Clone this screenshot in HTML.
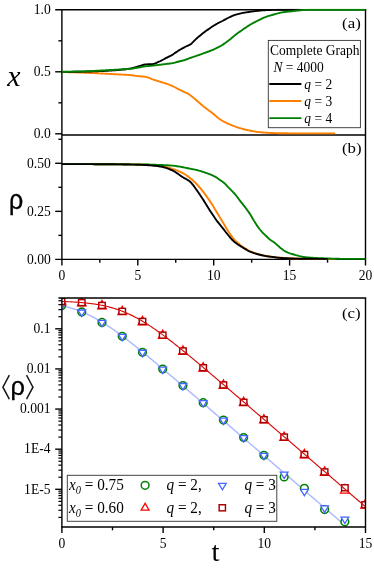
<!DOCTYPE html>
<html lang="en"><head><meta charset="utf-8"><title>q-voter model on a complete graph</title>
<style>html,body{margin:0;padding:0;background:#fff}body{width:374px;height:569px;overflow:hidden}svg{display:block;will-change:transform}</style></head>
<body>
<svg width="374" height="569" viewBox="0 0 374 569">
<rect width="374" height="569" fill="#fff"/>
<defs>
<clipPath id="ca"><rect x="61.9" y="8.8" width="303.6" height="126.2"/></clipPath>
<clipPath id="cb"><rect x="61.9" y="135.0" width="303.6" height="125.39999999999998"/></clipPath>
<clipPath id="cc"><rect x="61.9" y="298.0" width="303.6" height="229.0"/></clipPath>
</defs>
<line x1="55.20" y1="9.80" x2="366.20" y2="9.80" stroke="#000" stroke-width="1.4" />
<line x1="61.90" y1="9.80" x2="61.90" y2="265.60" stroke="#000" stroke-width="1.4" />
<line x1="365.50" y1="9.80" x2="365.50" y2="265.60" stroke="#000" stroke-width="1.4" />
<line x1="61.90" y1="135.00" x2="365.50" y2="135.00" stroke="#000" stroke-width="1.4" />
<line x1="55.20" y1="259.40" x2="365.50" y2="259.40" stroke="#000" stroke-width="1.4" />
<line x1="55.20" y1="71.80" x2="61.90" y2="71.80" stroke="#000" stroke-width="1.4" />
<line x1="55.20" y1="133.80" x2="61.90" y2="133.80" stroke="#000" stroke-width="1.4" />
<line x1="58.40" y1="40.80" x2="61.90" y2="40.80" stroke="#000" stroke-width="1.4" />
<line x1="58.40" y1="102.80" x2="61.90" y2="102.80" stroke="#000" stroke-width="1.4" />
<line x1="55.20" y1="163.30" x2="61.90" y2="163.30" stroke="#000" stroke-width="1.4" />
<line x1="55.20" y1="211.35" x2="61.90" y2="211.35" stroke="#000" stroke-width="1.4" />
<line x1="58.40" y1="139.27" x2="61.90" y2="139.27" stroke="#000" stroke-width="1.4" />
<line x1="58.40" y1="187.32" x2="61.90" y2="187.32" stroke="#000" stroke-width="1.4" />
<line x1="58.40" y1="235.37" x2="61.90" y2="235.37" stroke="#000" stroke-width="1.4" />
<line x1="137.80" y1="259.40" x2="137.80" y2="265.60" stroke="#000" stroke-width="1.4" />
<line x1="213.70" y1="259.40" x2="213.70" y2="265.60" stroke="#000" stroke-width="1.4" />
<line x1="289.60" y1="259.40" x2="289.60" y2="265.60" stroke="#000" stroke-width="1.4" />
<line x1="99.85" y1="259.40" x2="99.85" y2="262.70" stroke="#000" stroke-width="1.4" />
<line x1="175.75" y1="259.40" x2="175.75" y2="262.70" stroke="#000" stroke-width="1.4" />
<line x1="251.65" y1="259.40" x2="251.65" y2="262.70" stroke="#000" stroke-width="1.4" />
<line x1="327.55" y1="259.40" x2="327.55" y2="262.70" stroke="#000" stroke-width="1.4" />
<g clip-path="url(#ca)">
<polyline points="61.90,72.00 62.90,72.02 63.90,72.05 64.90,72.08 65.90,72.10 66.90,72.13 67.90,72.16 68.90,72.19 69.90,72.22 70.90,72.25 71.90,72.28 72.90,72.31 73.90,72.34 74.90,72.37 75.90,72.40 76.90,72.44 77.90,72.47 78.90,72.51 79.90,72.54 80.90,72.58 81.90,72.62 82.90,72.65 83.90,72.69 84.90,72.73 85.90,72.77 86.90,72.81 87.90,72.85 88.90,72.89 89.90,72.94 90.90,72.98 91.90,73.02 92.90,73.07 93.90,73.11 94.90,73.16 95.90,73.21 96.90,73.25 97.90,73.30 98.90,73.35 99.90,73.40 100.90,73.44 101.90,73.50 102.90,73.55 103.90,73.60 104.90,73.66 105.90,73.71 106.90,73.77 107.90,73.83 108.90,73.89 109.90,73.94 110.90,74.00 111.90,74.06 112.90,74.12 113.90,74.18 114.90,74.24 115.90,74.29 116.90,74.35 117.90,74.40 118.90,74.45 119.90,74.50 120.90,74.55 121.90,74.60 122.90,74.65 123.90,74.70 124.90,74.76 125.90,74.82 126.90,74.88 127.90,74.94 128.90,75.01 129.90,75.09 130.90,75.18 131.90,75.29 132.90,75.42 133.90,75.56 134.90,75.70 135.90,75.84 136.90,75.97 137.90,76.09 138.90,76.19 139.90,76.28 140.90,76.36 141.90,76.44 142.90,76.53 143.90,76.63 144.90,76.74 145.90,76.88 146.90,77.10 147.90,77.41 148.90,77.80 149.90,78.23 150.90,78.67 151.90,79.08 152.90,79.44 153.90,79.78 154.90,80.11 155.90,80.44 156.90,80.77 157.90,81.09 158.90,81.40 159.90,81.70 160.90,81.99 161.90,82.28 162.90,82.56 163.90,82.86 164.90,83.17 165.90,83.50 166.90,83.84 167.90,84.20 168.90,84.57 169.90,84.96 170.90,85.36 171.90,85.79 172.90,86.24 173.90,86.73 174.90,87.24 175.90,87.76 176.90,88.29 177.90,88.80 178.90,89.30 179.90,89.81 180.90,90.32 181.90,90.82 182.90,91.32 183.90,91.81 184.90,92.28 185.90,92.72 186.90,93.15 187.90,93.64 188.90,94.24 189.90,94.92 190.90,95.66 191.90,96.46 192.90,97.29 193.90,98.14 194.90,98.99 195.90,99.82 196.90,100.65 197.90,101.51 198.90,102.39 199.90,103.28 200.90,104.17 201.90,105.04 202.90,105.90 203.90,106.72 204.90,107.50 205.90,108.26 206.90,108.99 207.90,109.71 208.90,110.43 209.90,111.15 210.90,111.88 211.90,112.64 212.90,113.44 213.90,114.29 214.90,115.17 215.90,116.05 216.90,116.93 217.90,117.77 218.90,118.55 219.90,119.27 220.90,119.91 221.90,120.51 222.90,121.09 223.90,121.64 224.90,122.16 225.90,122.66 226.90,123.14 227.90,123.61 228.90,124.06 229.90,124.50 230.90,124.93 231.90,125.34 232.90,125.73 233.90,126.11 234.90,126.48 235.90,126.83 236.90,127.17 237.90,127.49 238.90,127.81 239.90,128.11 240.90,128.40 241.90,128.69 242.90,128.96 243.90,129.22 244.90,129.48 245.90,129.72 246.90,129.96 247.90,130.18 248.90,130.38 249.90,130.58 250.90,130.78 251.90,130.98 252.90,131.17 253.90,131.35 254.90,131.52 255.90,131.68 256.90,131.83 257.90,131.96 258.90,132.07 259.90,132.17 260.90,132.26 261.90,132.35 262.90,132.43 263.90,132.51 264.90,132.59 265.90,132.66 266.90,132.73 267.90,132.80 268.90,132.86 269.90,132.91 270.90,132.96 271.90,133.00 272.90,133.04 273.90,133.07 274.90,133.10 275.90,133.12 276.90,133.14 277.90,133.16 278.90,133.18 279.90,133.20 280.90,133.22 281.90,133.23 282.90,133.25 283.90,133.27 284.90,133.28 285.90,133.30 286.90,133.31 287.90,133.32 288.90,133.33 289.90,133.34 290.90,133.35 291.90,133.36 292.90,133.37 293.90,133.38 294.90,133.39 295.90,133.39 296.90,133.39 297.90,133.40 298.90,133.40 299.90,133.40 300.90,133.40 301.90,133.40 302.90,133.40 303.90,133.40 304.90,133.40 305.90,133.40 306.90,133.40 307.90,133.40 308.90,133.40 309.90,133.40 310.90,133.40 311.90,133.40 312.90,133.40 313.90,133.40 314.90,133.40 315.90,133.40 316.90,133.40 317.90,133.40 318.90,133.40 319.90,133.40 320.90,133.40 321.90,133.40 322.90,133.40 323.90,133.40 324.90,133.40 325.90,133.40 326.90,133.40 327.90,133.40 328.90,133.40 329.90,133.40 330.90,133.40 331.90,133.40 332.90,133.40 333.90,133.40 334.90,133.40 335.20,133.40" fill="none" stroke="#ff8000" stroke-width="1.9" stroke-linejoin="round" stroke-linecap="butt" />
<polyline points="61.90,71.90 62.90,71.90 63.90,71.89 64.90,71.89 65.90,71.88 66.90,71.87 67.90,71.86 68.90,71.85 69.90,71.84 70.90,71.83 71.90,71.82 72.90,71.81 73.90,71.79 74.90,71.78 75.90,71.76 76.90,71.75 77.90,71.73 78.90,71.72 79.90,71.70 80.90,71.68 81.90,71.67 82.90,71.65 83.90,71.62 84.90,71.60 85.90,71.58 86.90,71.55 87.90,71.52 88.90,71.49 89.90,71.46 90.90,71.43 91.90,71.40 92.90,71.36 93.90,71.33 94.90,71.29 95.90,71.26 96.90,71.22 97.90,71.18 98.90,71.14 99.90,71.10 100.90,71.06 101.90,71.02 102.90,70.98 103.90,70.93 104.90,70.88 105.90,70.83 106.90,70.78 107.90,70.73 108.90,70.67 109.90,70.61 110.90,70.55 111.90,70.49 112.90,70.42 113.90,70.35 114.90,70.28 115.90,70.21 116.90,70.13 117.90,70.05 118.90,69.96 119.90,69.87 120.90,69.78 121.90,69.67 122.90,69.57 123.90,69.45 124.90,69.33 125.90,69.21 126.90,69.07 127.90,68.93 128.90,68.78 129.90,68.62 130.90,68.43 131.90,68.21 132.90,67.95 133.90,67.68 134.90,67.39 135.90,67.09 136.90,66.80 137.90,66.53 138.90,66.25 139.90,65.94 140.90,65.61 141.90,65.30 142.90,65.00 143.90,64.74 144.90,64.54 145.90,64.41 146.90,64.34 147.90,64.30 148.90,64.26 149.90,64.23 150.90,64.20 151.90,64.14 152.90,64.05 153.90,63.84 154.90,63.50 155.90,63.09 156.90,62.63 157.90,62.15 158.90,61.70 159.90,61.25 160.90,60.77 161.90,60.27 162.90,59.75 163.90,59.22 164.90,58.70 165.90,58.20 166.90,57.70 167.90,57.21 168.90,56.71 169.90,56.19 170.90,55.65 171.90,55.08 172.90,54.45 173.90,53.78 174.90,53.08 175.90,52.37 176.90,51.68 177.90,51.02 178.90,50.41 179.90,49.81 180.90,49.23 181.90,48.66 182.90,48.10 183.90,47.55 184.90,47.01 185.90,46.49 186.90,46.03 187.90,45.58 188.90,45.11 189.90,44.59 190.90,43.96 191.90,43.15 192.90,42.17 193.90,41.12 194.90,40.07 195.90,39.09 196.90,38.21 197.90,37.35 198.90,36.52 199.90,35.70 200.90,34.90 201.90,34.11 202.90,33.33 203.90,32.57 204.90,31.82 205.90,31.08 206.90,30.35 207.90,29.63 208.90,28.90 209.90,28.19 210.90,27.50 211.90,26.83 212.90,26.18 213.90,25.55 214.90,24.94 215.90,24.35 216.90,23.78 217.90,23.23 218.90,22.72 219.90,22.23 220.90,21.75 221.90,21.26 222.90,20.74 223.90,20.19 224.90,19.63 225.90,19.07 226.90,18.52 227.90,17.99 228.90,17.51 229.90,17.04 230.90,16.58 231.90,16.13 232.90,15.71 233.90,15.32 234.90,14.96 235.90,14.64 236.90,14.35 237.90,14.07 238.90,13.82 239.90,13.58 240.90,13.35 241.90,13.14 242.90,12.94 243.90,12.76 244.90,12.59 245.90,12.43 246.90,12.27 247.90,12.12 248.90,11.97 249.90,11.82 250.90,11.68 251.90,11.54 252.90,11.41 253.90,11.28 254.90,11.16 255.90,11.04 256.90,10.92 257.90,10.81 258.90,10.70 259.90,10.60 260.90,10.50 261.90,10.42 262.90,10.34 263.90,10.27 264.90,10.20 265.90,10.13 266.90,10.08 267.90,10.03 268.90,10.00 269.90,9.97 270.90,9.94 271.90,9.92 272.90,9.89 273.90,9.87 274.90,9.85 275.90,9.83 276.90,9.82 277.90,9.81 278.90,9.80 279.90,9.80 280.90,9.80 281.90,9.80 282.90,9.80 283.90,9.80 284.90,9.80 285.90,9.80 286.90,9.80 287.90,9.80 288.90,9.80 289.90,9.80 290.90,9.80 291.90,9.80 292.90,9.80 293.90,9.80 294.90,9.80 295.90,9.80 296.90,9.80 297.90,9.80 298.90,9.80 299.90,9.80 300.00,9.80" fill="none" stroke="#000000" stroke-width="1.9" stroke-linejoin="round" stroke-linecap="butt" />
<polyline points="61.90,71.70 62.90,71.70 63.90,71.70 64.90,71.69 65.90,71.68 66.90,71.68 67.90,71.67 68.90,71.66 69.90,71.64 70.90,71.63 71.90,71.62 72.90,71.60 73.90,71.58 74.90,71.57 75.90,71.55 76.90,71.53 77.90,71.51 78.90,71.50 79.90,71.48 80.90,71.45 81.90,71.42 82.90,71.39 83.90,71.36 84.90,71.32 85.90,71.28 86.90,71.24 87.90,71.20 88.90,71.15 89.90,71.11 90.90,71.06 91.90,71.01 92.90,70.96 93.90,70.91 94.90,70.86 95.90,70.81 96.90,70.75 97.90,70.70 98.90,70.65 99.90,70.60 100.90,70.56 101.90,70.51 102.90,70.45 103.90,70.40 104.90,70.35 105.90,70.29 106.90,70.24 107.90,70.18 108.90,70.12 109.90,70.06 110.90,70.00 111.90,69.95 112.90,69.89 113.90,69.83 114.90,69.77 115.90,69.71 116.90,69.65 117.90,69.59 118.90,69.54 119.90,69.48 120.90,69.43 121.90,69.37 122.90,69.31 123.90,69.25 124.90,69.19 125.90,69.13 126.90,69.06 127.90,68.98 128.90,68.90 129.90,68.81 130.90,68.71 131.90,68.58 132.90,68.44 133.90,68.28 134.90,68.12 135.90,67.95 136.90,67.78 137.90,67.62 138.90,67.45 139.90,67.26 140.90,67.06 141.90,66.86 142.90,66.67 143.90,66.49 144.90,66.34 145.90,66.21 146.90,66.11 147.90,66.03 148.90,65.96 149.90,65.90 150.90,65.83 151.90,65.75 152.90,65.66 153.90,65.55 154.90,65.43 155.90,65.30 156.90,65.16 157.90,65.03 158.90,64.90 159.90,64.78 160.90,64.65 161.90,64.53 162.90,64.40 163.90,64.27 164.90,64.15 165.90,64.03 166.90,63.91 167.90,63.80 168.90,63.69 169.90,63.56 170.90,63.43 171.90,63.27 172.90,63.07 173.90,62.83 174.90,62.57 175.90,62.29 176.90,62.02 177.90,61.75 178.90,61.50 179.90,61.27 180.90,61.03 181.90,60.80 182.90,60.55 183.90,60.27 184.90,59.98 185.90,59.63 186.90,59.26 187.90,58.87 188.90,58.48 189.90,58.12 190.90,57.77 191.90,57.41 192.90,57.07 193.90,56.72 194.90,56.38 195.90,56.03 196.90,55.69 197.90,55.34 198.90,54.99 199.90,54.64 200.90,54.28 201.90,53.92 202.90,53.56 203.90,53.20 204.90,52.85 205.90,52.49 206.90,52.12 207.90,51.75 208.90,51.38 209.90,50.99 210.90,50.59 211.90,50.18 212.90,49.76 213.90,49.33 214.90,48.88 215.90,48.43 216.90,47.95 217.90,47.46 218.90,46.95 219.90,46.41 220.90,45.84 221.90,45.23 222.90,44.58 223.90,43.91 224.90,43.22 225.90,42.52 226.90,41.79 227.90,41.04 228.90,40.27 229.90,39.48 230.90,38.67 231.90,37.82 232.90,36.97 233.90,36.12 234.90,35.29 235.90,34.52 236.90,33.77 237.90,33.04 238.90,32.33 239.90,31.63 240.90,30.94 241.90,30.24 242.90,29.54 243.90,28.83 244.90,28.13 245.90,27.44 246.90,26.76 247.90,26.11 248.90,25.48 249.90,24.87 250.90,24.28 251.90,23.71 252.90,23.15 253.90,22.60 254.90,22.07 255.90,21.54 256.90,21.02 257.90,20.53 258.90,20.04 259.90,19.56 260.90,19.07 261.90,18.60 262.90,18.14 263.90,17.70 264.90,17.30 265.90,16.92 266.90,16.56 267.90,16.22 268.90,15.90 269.90,15.58 270.90,15.29 271.90,15.01 272.90,14.73 273.90,14.46 274.90,14.18 275.90,13.89 276.90,13.61 277.90,13.35 278.90,13.10 279.90,12.86 280.90,12.63 281.90,12.41 282.90,12.22 283.90,12.07 284.90,11.95 285.90,11.85 286.90,11.76 287.90,11.67 288.90,11.57 289.90,11.47 290.90,11.34 291.90,11.21 292.90,11.08 293.90,10.96 294.90,10.84 295.90,10.73 296.90,10.63 297.90,10.52 298.90,10.43 299.90,10.33 300.90,10.24 301.90,10.15 302.90,10.07 303.90,10.01 304.90,9.95 305.90,9.89 306.90,9.85 307.90,9.81 308.90,9.80 309.90,9.80 310.90,9.80 311.90,9.80 312.90,9.80 313.90,9.80 314.90,9.80 315.90,9.80 316.90,9.80 317.90,9.80 318.90,9.80 319.90,9.80 320.90,9.80 321.90,9.80 322.90,9.80 323.90,9.80 324.90,9.80 325.90,9.80 326.90,9.80 327.90,9.80 328.90,9.80 329.90,9.80 330.90,9.80 331.90,9.80 332.90,9.80 333.90,9.80 334.90,9.80 335.90,9.80 336.90,9.80 337.90,9.80 338.90,9.80 339.90,9.80 340.90,9.80 341.90,9.80 342.90,9.80 343.90,9.80 344.90,9.80 345.90,9.80 346.90,9.80 347.90,9.80 348.90,9.80 349.90,9.80 350.90,9.80 351.90,9.80 352.90,9.80 353.90,9.80 354.90,9.80 355.90,9.80 356.90,9.80 357.90,9.80 358.90,9.80 359.90,9.80 360.90,9.80 361.90,9.80 362.90,9.80 363.90,9.80 364.90,9.80 365.50,9.80" fill="none" stroke="#008000" stroke-width="1.9" stroke-linejoin="round" stroke-linecap="butt" />
</g>
<g clip-path="url(#cb)">
<polyline points="61.90,164.10 62.90,164.10 63.90,164.10 64.90,164.10 65.90,164.10 66.90,164.10 67.90,164.10 68.90,164.11 69.90,164.11 70.90,164.11 71.90,164.11 72.90,164.11 73.90,164.11 74.90,164.12 75.90,164.12 76.90,164.12 77.90,164.12 78.90,164.13 79.90,164.13 80.90,164.13 81.90,164.14 82.90,164.14 83.90,164.14 84.90,164.14 85.90,164.15 86.90,164.15 87.90,164.15 88.90,164.16 89.90,164.16 90.90,164.17 91.90,164.17 92.90,164.17 93.90,164.18 94.90,164.18 95.90,164.18 96.90,164.19 97.90,164.19 98.90,164.20 99.90,164.20 100.90,164.20 101.90,164.21 102.90,164.21 103.90,164.22 104.90,164.22 105.90,164.22 106.90,164.23 107.90,164.23 108.90,164.24 109.90,164.24 110.90,164.25 111.90,164.25 112.90,164.25 113.90,164.26 114.90,164.27 115.90,164.27 116.90,164.28 117.90,164.28 118.90,164.29 119.90,164.29 120.90,164.30 121.90,164.31 122.90,164.32 123.90,164.32 124.90,164.33 125.90,164.34 126.90,164.35 127.90,164.36 128.90,164.37 129.90,164.38 130.90,164.39 131.90,164.40 132.90,164.41 133.90,164.42 134.90,164.43 135.90,164.44 136.90,164.46 137.90,164.47 138.90,164.48 139.90,164.50 140.90,164.52 141.90,164.54 142.90,164.57 143.90,164.60 144.90,164.64 145.90,164.69 146.90,164.74 147.90,164.79 148.90,164.85 149.90,164.92 150.90,164.99 151.90,165.06 152.90,165.14 153.90,165.23 154.90,165.32 155.90,165.41 156.90,165.51 157.90,165.61 158.90,165.72 159.90,165.83 160.90,165.94 161.90,166.06 162.90,166.22 163.90,166.42 164.90,166.65 165.90,166.90 166.90,167.18 167.90,167.47 168.90,167.78 169.90,168.10 170.90,168.42 171.90,168.74 172.90,169.06 173.90,169.39 174.90,169.74 175.90,170.10 176.90,170.47 177.90,170.87 178.90,171.28 179.90,171.71 180.90,172.17 181.90,172.65 182.90,173.15 183.90,173.70 184.90,174.31 185.90,174.97 186.90,175.66 187.90,176.39 188.90,177.15 189.90,177.92 190.90,178.72 191.90,179.56 192.90,180.43 193.90,181.35 194.90,182.30 195.90,183.28 196.90,184.31 197.90,185.39 198.90,186.52 199.90,187.71 200.90,188.93 201.90,190.19 202.90,191.46 203.90,192.75 204.90,194.06 205.90,195.40 206.90,196.78 207.90,198.19 208.90,199.63 209.90,201.10 210.90,202.62 211.90,204.19 212.90,205.81 213.90,207.46 214.90,209.12 215.90,210.78 216.90,212.43 217.90,214.07 218.90,215.72 219.90,217.38 220.90,219.04 221.90,220.70 222.90,222.37 223.90,224.06 224.90,225.77 225.90,227.47 226.90,229.11 227.90,230.66 228.90,232.18 229.90,233.68 230.90,235.14 231.90,236.52 232.90,237.81 233.90,238.99 234.90,240.06 235.90,241.08 236.90,242.04 237.90,242.95 238.90,243.81 239.90,244.64 240.90,245.41 241.90,246.16 242.90,246.86 243.90,247.55 244.90,248.20 245.90,248.82 246.90,249.42 247.90,249.98 248.90,250.51 249.90,251.01 250.90,251.47 251.90,251.92 252.90,252.35 253.90,252.76 254.90,253.14 255.90,253.50 256.90,253.84 257.90,254.14 258.90,254.42 259.90,254.69 260.90,254.94 261.90,255.17 262.90,255.39 263.90,255.60 264.90,255.79 265.90,255.97 266.90,256.13 267.90,256.29 268.90,256.44 269.90,256.59 270.90,256.72 271.90,256.85 272.90,256.96 273.90,257.07 274.90,257.17 275.90,257.27 276.90,257.36 277.90,257.46 278.90,257.55 279.90,257.64 280.90,257.72 281.90,257.80 282.90,257.88 283.90,257.95 284.90,258.02 285.90,258.09 286.90,258.15 287.90,258.20 288.90,258.25 289.90,258.30 290.90,258.34 291.90,258.38 292.90,258.41 293.90,258.45 294.90,258.48 295.90,258.51 296.90,258.54 297.90,258.56 298.90,258.58 299.90,258.60 300.90,258.61 301.90,258.63 302.90,258.64 303.90,258.66 304.90,258.67 305.90,258.68 306.90,258.70 307.90,258.71 308.90,258.72 309.90,258.73 310.90,258.75 311.90,258.76 312.90,258.77 313.90,258.78 314.90,258.79 315.90,258.80 316.90,258.81 317.90,258.82 318.90,258.83 319.90,258.83 320.90,258.84 321.90,258.85 322.90,258.86 323.90,258.86 324.90,258.87 325.90,258.88 326.90,258.88 327.90,258.88 328.90,258.89 329.90,258.89 330.90,258.89 331.90,258.90 332.90,258.90 333.90,258.90 334.90,258.90 335.20,258.90" fill="none" stroke="#ff8000" stroke-width="1.9" stroke-linejoin="round" stroke-linecap="butt" />
<polyline points="61.90,164.10 62.90,164.10 63.90,164.10 64.90,164.10 65.90,164.11 66.90,164.11 67.90,164.11 68.90,164.11 69.90,164.11 70.90,164.12 71.90,164.12 72.90,164.12 73.90,164.12 74.90,164.13 75.90,164.13 76.90,164.13 77.90,164.13 78.90,164.14 79.90,164.14 80.90,164.14 81.90,164.14 82.90,164.15 83.90,164.15 84.90,164.15 85.90,164.15 86.90,164.16 87.90,164.16 88.90,164.16 89.90,164.17 90.90,164.17 91.90,164.17 92.90,164.18 93.90,164.18 94.90,164.18 95.90,164.19 96.90,164.19 97.90,164.19 98.90,164.20 99.90,164.20 100.90,164.20 101.90,164.21 102.90,164.21 103.90,164.21 104.90,164.22 105.90,164.22 106.90,164.22 107.90,164.23 108.90,164.23 109.90,164.23 110.90,164.24 111.90,164.24 112.90,164.24 113.90,164.25 114.90,164.25 115.90,164.25 116.90,164.26 117.90,164.26 118.90,164.27 119.90,164.27 120.90,164.28 121.90,164.28 122.90,164.28 123.90,164.29 124.90,164.29 125.90,164.30 126.90,164.31 127.90,164.31 128.90,164.32 129.90,164.32 130.90,164.33 131.90,164.34 132.90,164.34 133.90,164.35 134.90,164.36 135.90,164.37 136.90,164.37 137.90,164.38 138.90,164.39 139.90,164.40 140.90,164.41 141.90,164.42 142.90,164.44 143.90,164.45 144.90,164.47 145.90,164.49 146.90,164.52 147.90,164.54 148.90,164.57 149.90,164.60 150.90,164.63 151.90,164.66 152.90,164.69 153.90,164.72 154.90,164.76 155.90,164.79 156.90,164.83 157.90,164.87 158.90,164.90 159.90,164.94 160.90,164.98 161.90,165.02 162.90,165.06 163.90,165.10 164.90,165.15 165.90,165.20 166.90,165.25 167.90,165.31 168.90,165.37 169.90,165.44 170.90,165.51 171.90,165.58 172.90,165.67 173.90,165.78 174.90,165.90 175.90,166.04 176.90,166.19 177.90,166.35 178.90,166.51 179.90,166.69 180.90,166.86 181.90,167.04 182.90,167.22 183.90,167.40 184.90,167.61 185.90,167.82 186.90,168.04 187.90,168.26 188.90,168.47 189.90,168.68 190.90,168.87 191.90,169.06 192.90,169.24 193.90,169.42 194.90,169.61 195.90,169.82 196.90,170.05 197.90,170.30 198.90,170.58 199.90,170.88 200.90,171.19 201.90,171.51 202.90,171.84 203.90,172.16 204.90,172.49 205.90,172.83 206.90,173.18 207.90,173.54 208.90,173.92 209.90,174.32 210.90,174.73 211.90,175.16 212.90,175.61 213.90,176.09 214.90,176.60 215.90,177.14 216.90,177.72 217.90,178.41 218.90,179.17 219.90,179.93 220.90,180.62 221.90,181.27 222.90,181.95 223.90,182.72 224.90,183.64 225.90,184.70 226.90,185.81 227.90,186.90 228.90,187.91 229.90,188.89 230.90,189.88 231.90,190.90 232.90,191.95 233.90,193.01 234.90,194.12 235.90,195.28 236.90,196.53 237.90,197.87 238.90,199.23 239.90,200.57 240.90,201.85 241.90,203.11 242.90,204.36 243.90,205.64 244.90,206.95 245.90,208.29 246.90,209.65 247.90,211.02 248.90,212.41 249.90,213.85 250.90,215.45 251.90,217.18 252.90,218.94 253.90,220.64 254.90,222.26 255.90,223.86 256.90,225.41 257.90,226.86 258.90,228.22 259.90,229.52 260.90,230.74 261.90,231.89 262.90,232.95 263.90,233.93 264.90,234.87 265.90,235.81 266.90,236.77 267.90,237.74 268.90,238.68 269.90,239.54 270.90,240.28 271.90,240.94 272.90,241.57 273.90,242.25 274.90,243.03 275.90,243.87 276.90,244.74 277.90,245.62 278.90,246.54 279.90,247.45 280.90,248.28 281.90,249.05 282.90,249.79 283.90,250.49 284.90,251.11 285.90,251.65 286.90,252.13 287.90,252.56 288.90,252.96 289.90,253.33 290.90,253.67 291.90,253.98 292.90,254.27 293.90,254.54 294.90,254.82 295.90,255.10 296.90,255.38 297.90,255.65 298.90,255.92 299.90,256.16 300.90,256.37 301.90,256.58 302.90,256.78 303.90,256.95 304.90,257.10 305.90,257.23 306.90,257.34 307.90,257.44 308.90,257.53 309.90,257.62 310.90,257.69 311.90,257.76 312.90,257.82 313.90,257.88 314.90,257.94 315.90,257.99 316.90,258.05 317.90,258.10 318.90,258.14 319.90,258.19 320.90,258.24 321.90,258.28 322.90,258.32 323.90,258.36 324.90,258.40 325.90,258.44 326.90,258.47 327.90,258.50 328.90,258.53 329.90,258.56 330.90,258.59 331.90,258.62 332.90,258.65 333.90,258.68 334.90,258.71 335.90,258.74 336.90,258.77 337.90,258.79 338.90,258.81 339.90,258.84 340.90,258.85 341.90,258.87 342.90,258.88 343.90,258.89 344.90,258.90 345.90,258.90 346.90,258.90 347.90,258.90 348.90,258.90 349.90,258.90 350.90,258.90 351.90,258.90 352.90,258.90 353.90,258.90 354.90,258.90 355.90,258.90 356.90,258.90 357.90,258.90 358.90,258.90 359.90,258.90 360.90,258.90 361.90,258.90 362.90,258.90 363.90,258.90 364.90,258.90 365.50,258.90" fill="none" stroke="#008000" stroke-width="1.9" stroke-linejoin="round" stroke-linecap="butt" />
<polyline points="61.90,164.10 62.90,164.10 63.90,164.10 64.90,164.10 65.90,164.10 66.90,164.10 67.90,164.10 68.90,164.10 69.90,164.11 70.90,164.11 71.90,164.11 72.90,164.11 73.90,164.11 74.90,164.11 75.90,164.12 76.90,164.12 77.90,164.12 78.90,164.12 79.90,164.13 80.90,164.13 81.90,164.13 82.90,164.13 83.90,164.14 84.90,164.14 85.90,164.14 86.90,164.15 87.90,164.15 88.90,164.15 89.90,164.16 90.90,164.16 91.90,164.17 92.90,164.17 93.90,164.17 94.90,164.18 95.90,164.18 96.90,164.19 97.90,164.19 98.90,164.20 99.90,164.20 100.90,164.20 101.90,164.21 102.90,164.21 103.90,164.22 104.90,164.23 105.90,164.23 106.90,164.24 107.90,164.25 108.90,164.26 109.90,164.27 110.90,164.28 111.90,164.29 112.90,164.30 113.90,164.31 114.90,164.32 115.90,164.33 116.90,164.35 117.90,164.36 118.90,164.37 119.90,164.39 120.90,164.40 121.90,164.42 122.90,164.43 123.90,164.45 124.90,164.47 125.90,164.49 126.90,164.50 127.90,164.52 128.90,164.54 129.90,164.56 130.90,164.58 131.90,164.60 132.90,164.63 133.90,164.65 134.90,164.67 135.90,164.70 136.90,164.72 137.90,164.75 138.90,164.77 139.90,164.80 140.90,164.83 141.90,164.86 142.90,164.91 143.90,164.95 144.90,165.01 145.90,165.07 146.90,165.13 147.90,165.20 148.90,165.27 149.90,165.34 150.90,165.42 151.90,165.50 152.90,165.58 153.90,165.68 154.90,165.78 155.90,165.90 156.90,166.02 157.90,166.15 158.90,166.29 159.90,166.45 160.90,166.61 161.90,166.79 162.90,167.01 163.90,167.26 164.90,167.55 165.90,167.86 166.90,168.20 167.90,168.56 168.90,168.95 169.90,169.36 170.90,169.78 171.90,170.21 172.90,170.68 173.90,171.21 174.90,171.81 175.90,172.45 176.90,173.12 177.90,173.82 178.90,174.53 179.90,175.24 180.90,175.94 181.90,176.62 182.90,177.26 183.90,177.85 184.90,178.41 185.90,178.94 186.90,179.50 187.90,180.09 188.90,180.76 189.90,181.52 190.90,182.43 191.90,183.54 192.90,184.80 193.90,186.15 194.90,187.56 195.90,188.98 196.90,190.38 197.90,191.78 198.90,193.24 199.90,194.73 200.90,196.25 201.90,197.78 202.90,199.33 203.90,200.88 204.90,202.46 205.90,204.07 206.90,205.70 207.90,207.32 208.90,208.92 209.90,210.49 210.90,212.03 211.90,213.57 212.90,215.09 213.90,216.60 214.90,218.07 215.90,219.49 216.90,220.87 217.90,222.18 218.90,223.45 219.90,224.68 220.90,225.90 221.90,227.12 222.90,228.36 223.90,229.65 224.90,230.98 225.90,232.28 226.90,233.52 227.90,234.76 228.90,235.99 229.90,237.20 230.90,238.36 231.90,239.47 232.90,240.49 233.90,241.41 234.90,242.25 235.90,243.03 236.90,243.75 237.90,244.44 238.90,245.10 239.90,245.74 240.90,246.36 241.90,246.98 242.90,247.60 243.90,248.22 244.90,248.83 245.90,249.43 246.90,250.01 247.90,250.55 248.90,251.06 249.90,251.51 250.90,251.93 251.90,252.32 252.90,252.69 253.90,253.03 254.90,253.36 255.90,253.67 256.90,253.97 257.90,254.25 258.90,254.51 259.90,254.77 260.90,255.02 261.90,255.25 262.90,255.48 263.90,255.69 264.90,255.89 265.90,256.07 266.90,256.23 267.90,256.38 268.90,256.52 269.90,256.65 270.90,256.78 271.90,256.91 272.90,257.03 273.90,257.16 274.90,257.30 275.90,257.44 276.90,257.58 277.90,257.69 278.90,257.78 279.90,257.85 280.90,257.93 281.90,257.99 282.90,258.06 283.90,258.12 284.90,258.17 285.90,258.22 286.90,258.27 287.90,258.31 288.90,258.36 289.90,258.40 290.90,258.44 291.90,258.47 292.90,258.51 293.90,258.55 294.90,258.58 295.90,258.61 296.90,258.64 297.90,258.66 298.90,258.68 299.90,258.70 300.90,258.71 301.90,258.72 302.90,258.74 303.90,258.75 304.90,258.76 305.90,258.77 306.90,258.78 307.90,258.79 308.90,258.80 309.90,258.81 310.90,258.82 311.90,258.83 312.90,258.84 313.90,258.84 314.90,258.85 315.90,258.86 316.90,258.87 317.90,258.87 318.90,258.88 319.90,258.88 320.90,258.89 321.90,258.89 322.90,258.89 323.90,258.90 324.90,258.90 325.90,258.90 326.90,258.90 327.80,258.90" fill="none" stroke="#000000" stroke-width="1.9" stroke-linejoin="round" stroke-linecap="butt" />
</g>
<g transform="translate(50.80,14.10) scale(0.905,1)"><text text-anchor="end" fill="#000" style='font-family:"Liberation Serif", serif;font-size:15px;' >1.0</text></g>
<g transform="translate(50.80,76.10) scale(0.905,1)"><text text-anchor="end" fill="#000" style='font-family:"Liberation Serif", serif;font-size:15px;' >0.5</text></g>
<g transform="translate(50.80,138.10) scale(0.905,1)"><text text-anchor="end" fill="#000" style='font-family:"Liberation Serif", serif;font-size:15px;' >0.0</text></g>
<g transform="translate(50.80,167.60) scale(0.905,1)"><text text-anchor="end" fill="#000" style='font-family:"Liberation Serif", serif;font-size:15px;' >0.50</text></g>
<g transform="translate(50.80,215.65) scale(0.905,1)"><text text-anchor="end" fill="#000" style='font-family:"Liberation Serif", serif;font-size:15px;' >0.25</text></g>
<g transform="translate(50.80,263.70) scale(0.905,1)"><text text-anchor="end" fill="#000" style='font-family:"Liberation Serif", serif;font-size:15px;' >0.00</text></g>
<g transform="translate(61.90,280.00) scale(0.905,1)"><text text-anchor="middle" fill="#000" style='font-family:"Liberation Serif", serif;font-size:15px;' >0</text></g>
<g transform="translate(137.80,280.00) scale(0.905,1)"><text text-anchor="middle" fill="#000" style='font-family:"Liberation Serif", serif;font-size:15px;' >5</text></g>
<g transform="translate(213.70,280.00) scale(0.905,1)"><text text-anchor="middle" fill="#000" style='font-family:"Liberation Serif", serif;font-size:15px;' >10</text></g>
<g transform="translate(289.60,280.00) scale(0.905,1)"><text text-anchor="middle" fill="#000" style='font-family:"Liberation Serif", serif;font-size:15px;' >15</text></g>
<g transform="translate(365.50,280.00) scale(0.905,1)"><text text-anchor="middle" fill="#000" style='font-family:"Liberation Serif", serif;font-size:15px;' >20</text></g>
<g transform="translate(7.25,86.40) scale(1.0,1)"><text text-anchor="start" fill="#000" style='font-family:"Liberation Serif", serif;font-size:29.8px;font-style:italic;' >x</text></g>
<g transform="translate(8.90,208.60) scale(0.91,1)"><text text-anchor="start" fill="#000" style='font-family:"Liberation Sans", sans-serif;font-size:27.5px;' stroke="#000" stroke-width="0.35">ρ</text></g>
<g transform="translate(342.10,28.40) scale(1.1,1)"><text text-anchor="start" fill="#000" style='font-family:"Liberation Serif", serif;font-size:15.3px;' >(a)</text></g>
<g transform="translate(341.90,153.40) scale(1.1,1)"><text text-anchor="start" fill="#000" style='font-family:"Liberation Serif", serif;font-size:15.3px;' >(b)</text></g>
<g transform="translate(341.90,318.10) scale(1.1,1)"><text text-anchor="start" fill="#000" style='font-family:"Liberation Serif", serif;font-size:15.3px;' >(c)</text></g>
<rect x="268.3" y="40.4" width="92.1" height="87.3" fill="#fff" stroke="#333" stroke-width="0.9"/>
<g transform="translate(270.00,55.00) scale(0.87,1)"><text text-anchor="start" fill="#000" style='font-family:"Liberation Serif", serif;font-size:15.5px;' >Complete Graph</text></g>
<g transform="translate(273.50,71.50) scale(0.87,1)"><text text-anchor="start" fill="#000" style='font-family:"Liberation Serif", serif;font-size:15.5px;' ><tspan font-style="italic">N</tspan> = 4000</text></g>
<line x1="269.30" y1="84.00" x2="301.40" y2="84.00" stroke="#000000" stroke-width="1.9" />
<g transform="translate(304.30,88.50) scale(0.87,1)"><text text-anchor="start" fill="#000" style='font-family:"Liberation Serif", serif;font-size:15.5px;' ><tspan font-style="italic">q</tspan> = 2</text></g>
<line x1="269.30" y1="101.00" x2="301.40" y2="101.00" stroke="#ff8000" stroke-width="1.9" />
<g transform="translate(304.30,105.50) scale(0.87,1)"><text text-anchor="start" fill="#000" style='font-family:"Liberation Serif", serif;font-size:15.5px;' ><tspan font-style="italic">q</tspan> = 3</text></g>
<line x1="269.30" y1="118.10" x2="301.40" y2="118.10" stroke="#008000" stroke-width="1.9" />
<g transform="translate(304.30,122.60) scale(0.87,1)"><text text-anchor="start" fill="#000" style='font-family:"Liberation Serif", serif;font-size:15.5px;' ><tspan font-style="italic">q</tspan> = 4</text></g>
<g clip-path="url(#cc)">
<polyline points="61.90,305.76 62.91,305.99 63.92,306.22 64.94,306.46 65.95,306.70 66.96,306.96 67.97,307.23 68.98,307.50 70.00,307.79 71.01,308.08 72.02,308.38 73.03,308.70 74.04,309.02 75.06,309.36 76.07,309.70 77.08,310.06 78.09,310.42 79.10,310.80 80.12,311.19 81.13,311.58 82.14,311.99 83.15,312.41 84.16,312.84 85.18,313.28 86.19,313.74 87.20,314.20 88.21,314.67 89.22,315.16 90.24,315.65 91.25,316.16 92.26,316.68 93.27,317.20 94.28,317.74 95.30,318.29 96.31,318.85 97.32,319.42 98.33,319.99 99.34,320.58 100.36,321.18 101.37,321.78 102.38,322.40 103.39,323.02 104.40,323.66 105.42,324.30 106.43,324.95 107.44,325.61 108.45,326.27 109.46,326.95 110.48,327.63 111.49,328.32 112.50,329.01 113.51,329.71 114.52,330.42 115.54,331.14 116.55,331.86 117.56,332.59 118.57,333.32 119.58,334.06 120.60,334.81 121.61,335.56 122.62,336.31 123.63,337.07 124.64,337.84 125.66,338.61 126.67,339.38 127.68,340.16 128.69,340.95 129.70,341.73 130.72,342.52 131.73,343.32 132.74,344.11 133.75,344.91 134.76,345.72 135.78,346.53 136.79,347.33 137.80,348.15 138.81,348.96 139.82,349.78 140.84,350.60 141.85,351.42 142.86,352.25 143.87,353.08 144.88,353.90 145.90,354.74 146.91,355.57 147.92,356.40 148.93,357.24 149.94,358.08 150.96,358.92 151.97,359.76 152.98,360.60 153.99,361.45 155.00,362.29 156.02,363.14 157.03,363.99 158.04,364.83 159.05,365.68 160.06,366.53 161.08,367.39 162.09,368.24 163.10,369.09 164.11,369.95 165.12,370.80 166.14,371.66 167.15,372.52 168.16,373.37 169.17,374.23 170.18,375.09 171.20,375.95 172.21,376.81 173.22,377.67 174.23,378.53 175.24,379.39 176.26,380.26 177.27,381.12 178.28,381.98 179.29,382.84 180.30,383.71 181.32,384.57 182.33,385.44 183.34,386.30 184.35,387.17 185.36,388.03 186.38,388.90 187.39,389.76 188.40,390.63 189.41,391.50 190.42,392.36 191.44,393.23 192.45,394.10 193.46,394.97 194.47,395.83 195.48,396.70 196.50,397.57 197.51,398.44 198.52,399.31 199.53,400.17 200.54,401.04 201.56,401.91 202.57,402.78 203.58,403.65 204.59,404.52 205.60,405.39 206.62,406.26 207.63,407.13 208.64,408.00 209.65,408.86 210.66,409.73 211.68,410.60 212.69,411.47 213.70,412.34 214.71,413.21 215.72,414.08 216.74,414.95 217.75,415.82 218.76,416.69 219.77,417.57 220.78,418.44 221.80,419.31 222.81,420.18 223.82,421.05 224.83,421.92 225.84,422.79 226.86,423.66 227.87,424.53 228.88,425.40 229.89,426.27 230.90,427.14 231.92,428.01 232.93,428.88 233.94,429.75 234.95,430.63 235.96,431.50 236.98,432.37 237.99,433.24 239.00,434.11 240.01,434.98 241.02,435.85 242.04,436.72 243.05,437.59 244.06,438.46 245.07,439.34 246.08,440.21 247.10,441.08 248.11,441.95 249.12,442.82 250.13,443.69 251.14,444.56 252.16,445.43 253.17,446.30 254.18,447.18 255.19,448.05 256.20,448.92 257.22,449.79 258.23,450.66 259.24,451.53 260.25,452.40 261.26,453.27 262.28,454.15 263.29,455.02 264.30,455.89 265.31,456.76 266.32,457.63 267.34,458.50 268.35,459.37 269.36,460.24 270.37,461.12 271.38,461.99 272.40,462.86 273.41,463.73 274.42,464.60 275.43,465.47 276.44,466.34 277.46,467.22 278.47,468.09 279.48,468.96 280.49,469.83 281.50,470.70 282.52,471.57 283.53,472.44 284.54,473.31 285.55,474.19 286.56,475.06 287.58,475.93 288.59,476.80 289.60,477.67 290.61,478.54 291.62,479.41 292.64,480.29 293.65,481.16 294.66,482.03 295.67,482.90 296.68,483.77 297.70,484.64 298.71,485.51 299.72,486.39 300.73,487.26 301.74,488.13 302.76,489.00 303.77,489.87 304.78,490.74 305.79,491.61 306.80,492.49 307.82,493.36 308.83,494.23 309.84,495.10 310.85,495.97 311.86,496.84 312.88,497.71 313.89,498.59 314.90,499.46 315.91,500.33 316.92,501.20 317.94,502.07 318.95,502.94 319.96,503.81 320.97,504.69 321.98,505.56 323.00,506.43 324.01,507.30 325.02,508.17 326.03,509.04 327.04,509.91 328.06,510.78 329.07,511.66 330.08,512.53 331.09,513.40 332.10,514.27 333.12,515.14 334.13,516.01 335.14,516.88 336.15,517.76 337.16,518.63 338.18,519.50 339.19,520.37 340.20,521.24 341.21,522.11 342.22,522.98 343.24,523.86 344.25,524.73 345.26,525.60 346.27,526.47 347.28,527.34 348.30,528.21 349.31,529.08 350.32,529.96 351.33,530.83 352.34,531.70 353.36,532.57 354.37,533.44 355.38,534.31 356.39,535.18 357.40,536.06 358.42,536.93 359.43,537.80 360.44,538.67 361.45,539.54 362.46,540.41 363.48,541.28 364.49,542.16 365.50,543.03 366.51,543.90 367.52,544.77 368.54,545.64" fill="none" stroke="#aebaff" stroke-width="1.45" stroke-linejoin="round" stroke-linecap="butt" />
<circle cx="61.50" cy="305.76" r="3.85" fill="#fff" stroke="#008000" stroke-width="1.55"/>
<circle cx="81.74" cy="311.99" r="3.85" fill="#fff" stroke="#008000" stroke-width="1.55"/>
<circle cx="101.98" cy="322.40" r="3.85" fill="#fff" stroke="#008000" stroke-width="1.55"/>
<circle cx="122.22" cy="336.31" r="3.85" fill="#fff" stroke="#008000" stroke-width="1.55"/>
<circle cx="142.46" cy="352.25" r="3.85" fill="#fff" stroke="#008000" stroke-width="1.55"/>
<circle cx="162.70" cy="369.09" r="3.85" fill="#fff" stroke="#008000" stroke-width="1.55"/>
<circle cx="182.94" cy="385.50" r="3.85" fill="#fff" stroke="#008000" stroke-width="1.55"/>
<circle cx="203.18" cy="402.65" r="3.85" fill="#fff" stroke="#008000" stroke-width="1.55"/>
<circle cx="223.42" cy="420.05" r="3.85" fill="#fff" stroke="#008000" stroke-width="1.55"/>
<circle cx="243.66" cy="437.56" r="3.85" fill="#fff" stroke="#008000" stroke-width="1.55"/>
<circle cx="263.90" cy="455.29" r="3.85" fill="#fff" stroke="#008000" stroke-width="1.55"/>
<circle cx="284.14" cy="476.91" r="3.85" fill="#fff" stroke="#008000" stroke-width="1.55"/>
<circle cx="304.38" cy="488.34" r="3.85" fill="#fff" stroke="#008000" stroke-width="1.55"/>
<circle cx="324.62" cy="509.57" r="3.85" fill="#fff" stroke="#008000" stroke-width="1.55"/>
<circle cx="344.86" cy="521.80" r="3.85" fill="#fff" stroke="#008000" stroke-width="1.55"/>
<polygon points="57.65,303.76 65.35,303.76 61.50,310.16" fill="#fff" stroke="#4466ff" stroke-width="1.3" stroke-linejoin="miter"/>
<polygon points="77.89,309.99 85.59,309.99 81.74,316.39" fill="#fff" stroke="#4466ff" stroke-width="1.3" stroke-linejoin="miter"/>
<polygon points="98.13,320.40 105.83,320.40 101.98,326.80" fill="#fff" stroke="#4466ff" stroke-width="1.3" stroke-linejoin="miter"/>
<polygon points="118.37,334.31 126.07,334.31 122.22,340.71" fill="#fff" stroke="#4466ff" stroke-width="1.3" stroke-linejoin="miter"/>
<polygon points="138.61,350.25 146.31,350.25 142.46,356.65" fill="#fff" stroke="#4466ff" stroke-width="1.3" stroke-linejoin="miter"/>
<polygon points="158.85,367.09 166.55,367.09 162.70,373.49" fill="#fff" stroke="#4466ff" stroke-width="1.3" stroke-linejoin="miter"/>
<polygon points="179.09,383.50 186.79,383.50 182.94,389.90" fill="#fff" stroke="#4466ff" stroke-width="1.3" stroke-linejoin="miter"/>
<polygon points="199.33,400.65 207.03,400.65 203.18,407.05" fill="#fff" stroke="#4466ff" stroke-width="1.3" stroke-linejoin="miter"/>
<polygon points="219.57,418.05 227.27,418.05 223.42,424.45" fill="#fff" stroke="#4466ff" stroke-width="1.3" stroke-linejoin="miter"/>
<polygon points="239.81,435.56 247.51,435.56 243.66,441.96" fill="#fff" stroke="#4466ff" stroke-width="1.3" stroke-linejoin="miter"/>
<polygon points="260.05,453.29 267.75,453.29 263.90,459.69" fill="#fff" stroke="#4466ff" stroke-width="1.3" stroke-linejoin="miter"/>
<polygon points="280.29,472.11 287.99,472.11 284.14,478.51" fill="#fff" stroke="#4466ff" stroke-width="1.3" stroke-linejoin="miter"/>
<polygon points="300.53,489.44 308.23,489.44 304.38,495.84" fill="#fff" stroke="#4466ff" stroke-width="1.3" stroke-linejoin="miter"/>
<polygon points="320.77,505.97 328.47,505.97 324.62,512.37" fill="#fff" stroke="#4466ff" stroke-width="1.3" stroke-linejoin="miter"/>
<polygon points="341.01,517.20 348.71,517.20 344.86,523.60" fill="#fff" stroke="#4466ff" stroke-width="1.3" stroke-linejoin="miter"/>
<polygon points="57.20,304.76 65.80,304.76 61.50,296.46" fill="#fff" stroke="#ff0000" stroke-width="1.3" stroke-linejoin="miter"/>
<polygon points="77.44,305.92 86.04,305.92 81.74,297.62" fill="#fff" stroke="#ff0000" stroke-width="1.3" stroke-linejoin="miter"/>
<polygon points="97.68,308.73 106.28,308.73 101.98,300.43" fill="#fff" stroke="#ff0000" stroke-width="1.3" stroke-linejoin="miter"/>
<polygon points="117.92,314.65 126.52,314.65 122.22,306.35" fill="#fff" stroke="#ff0000" stroke-width="1.3" stroke-linejoin="miter"/>
<polygon points="138.16,324.73 146.76,324.73 142.46,316.43" fill="#fff" stroke="#ff0000" stroke-width="1.3" stroke-linejoin="miter"/>
<polygon points="158.40,338.42 167.00,338.42 162.70,330.12" fill="#fff" stroke="#ff0000" stroke-width="1.3" stroke-linejoin="miter"/>
<polygon points="178.64,354.24 187.24,354.24 182.94,345.94" fill="#fff" stroke="#ff0000" stroke-width="1.3" stroke-linejoin="miter"/>
<polygon points="198.88,371.04 207.48,371.04 203.18,362.74" fill="#fff" stroke="#ff0000" stroke-width="1.3" stroke-linejoin="miter"/>
<polygon points="219.12,388.23 227.72,388.23 223.42,379.93" fill="#fff" stroke="#ff0000" stroke-width="1.3" stroke-linejoin="miter"/>
<polygon points="239.36,405.57 247.96,405.57 243.66,397.27" fill="#fff" stroke="#ff0000" stroke-width="1.3" stroke-linejoin="miter"/>
<polygon points="259.60,422.96 268.20,422.96 263.90,414.66" fill="#fff" stroke="#ff0000" stroke-width="1.3" stroke-linejoin="miter"/>
<polygon points="279.84,440.38 288.44,440.38 284.14,432.08" fill="#fff" stroke="#ff0000" stroke-width="1.3" stroke-linejoin="miter"/>
<polygon points="300.08,457.80 308.68,457.80 304.38,449.50" fill="#fff" stroke="#ff0000" stroke-width="1.3" stroke-linejoin="miter"/>
<polygon points="320.32,475.23 328.92,475.23 324.62,466.93" fill="#fff" stroke="#ff0000" stroke-width="1.3" stroke-linejoin="miter"/>
<polygon points="340.56,493.06 349.16,493.06 344.86,484.76" fill="#fff" stroke="#ff0000" stroke-width="1.3" stroke-linejoin="miter"/>
<polygon points="360.80,508.09 369.40,508.09 365.10,499.79" fill="#fff" stroke="#ff0000" stroke-width="1.3" stroke-linejoin="miter"/>
<rect x="58.25" y="298.46" width="6.50" height="6.00" fill="#fff" stroke="#a80000" stroke-width="1.45"/>
<rect x="78.49" y="299.62" width="6.50" height="6.00" fill="#fff" stroke="#a80000" stroke-width="1.45"/>
<rect x="98.73" y="302.43" width="6.50" height="6.00" fill="#fff" stroke="#a80000" stroke-width="1.45"/>
<rect x="118.97" y="308.35" width="6.50" height="6.00" fill="#fff" stroke="#a80000" stroke-width="1.45"/>
<rect x="139.21" y="318.43" width="6.50" height="6.00" fill="#fff" stroke="#a80000" stroke-width="1.45"/>
<rect x="159.45" y="332.12" width="6.50" height="6.00" fill="#fff" stroke="#a80000" stroke-width="1.45"/>
<rect x="179.69" y="347.94" width="6.50" height="6.00" fill="#fff" stroke="#a80000" stroke-width="1.45"/>
<rect x="199.93" y="364.74" width="6.50" height="6.00" fill="#fff" stroke="#a80000" stroke-width="1.45"/>
<rect x="220.17" y="381.93" width="6.50" height="6.00" fill="#fff" stroke="#a80000" stroke-width="1.45"/>
<rect x="240.41" y="399.27" width="6.50" height="6.00" fill="#fff" stroke="#a80000" stroke-width="1.45"/>
<rect x="260.65" y="416.66" width="6.50" height="6.00" fill="#fff" stroke="#a80000" stroke-width="1.45"/>
<rect x="280.89" y="434.08" width="6.50" height="6.00" fill="#fff" stroke="#a80000" stroke-width="1.45"/>
<rect x="301.13" y="451.50" width="6.50" height="6.00" fill="#fff" stroke="#a80000" stroke-width="1.45"/>
<rect x="321.37" y="468.93" width="6.50" height="6.00" fill="#fff" stroke="#a80000" stroke-width="1.45"/>
<rect x="341.61" y="484.76" width="6.50" height="6.00" fill="#fff" stroke="#a80000" stroke-width="1.45"/>
<rect x="361.85" y="501.79" width="6.50" height="6.00" fill="#fff" stroke="#a80000" stroke-width="1.45"/>
<polyline points="61.90,301.46 62.91,301.50 63.92,301.53 64.94,301.57 65.95,301.62 66.96,301.66 67.97,301.70 68.98,301.75 70.00,301.80 71.01,301.85 72.02,301.91 73.03,301.97 74.04,302.03 75.06,302.09 76.07,302.15 77.08,302.22 78.09,302.30 79.10,302.37 80.12,302.45 81.13,302.53 82.14,302.62 83.15,302.71 84.16,302.81 85.18,302.90 86.19,303.01 87.20,303.12 88.21,303.23 89.22,303.35 90.24,303.47 91.25,303.60 92.26,303.73 93.27,303.87 94.28,304.02 95.30,304.17 96.31,304.33 97.32,304.50 98.33,304.67 99.34,304.85 100.36,305.03 101.37,305.23 102.38,305.43 103.39,305.64 104.40,305.85 105.42,306.08 106.43,306.31 107.44,306.56 108.45,306.81 109.46,307.07 110.48,307.34 111.49,307.62 112.50,307.91 113.51,308.20 114.52,308.51 115.54,308.83 116.55,309.16 117.56,309.50 118.57,309.85 119.58,310.21 120.60,310.58 121.61,310.96 122.62,311.35 123.63,311.75 124.64,312.16 125.66,312.59 126.67,313.02 127.68,313.47 128.69,313.93 129.70,314.39 130.72,314.87 131.73,315.36 132.74,315.86 133.75,316.37 134.76,316.89 135.78,317.42 136.79,317.97 137.80,318.52 138.81,319.08 139.82,319.65 140.84,320.23 141.85,320.82 142.86,321.43 143.87,322.04 144.88,322.65 145.90,323.28 146.91,323.92 147.92,324.56 148.93,325.22 149.94,325.88 150.96,326.55 151.97,327.22 152.98,327.91 153.99,328.60 155.00,329.30 156.02,330.00 157.03,330.72 158.04,331.43 159.05,332.16 160.06,332.89 161.08,333.63 162.09,334.37 163.10,335.12 164.11,335.87 165.12,336.63 166.14,337.39 167.15,338.16 168.16,338.93 169.17,339.70 170.18,340.48 171.20,341.27 172.21,342.06 173.22,342.85 174.23,343.64 175.24,344.44 176.26,345.24 177.27,346.05 178.28,346.86 179.29,347.67 180.30,348.48 181.32,349.30 182.33,350.12 183.34,350.94 184.35,351.76 185.36,352.59 186.38,353.42 187.39,354.25 188.40,355.08 189.41,355.91 190.42,356.75 191.44,357.58 192.45,358.42 193.46,359.26 194.47,360.11 195.48,360.95 196.50,361.79 197.51,362.64 198.52,363.49 199.53,364.33 200.54,365.18 201.56,366.03 202.57,366.89 203.58,367.74 204.59,368.59 205.60,369.44 206.62,370.30 207.63,371.16 208.64,372.01 209.65,372.87 210.66,373.73 211.68,374.59 212.69,375.44 213.70,376.30 214.71,377.16 215.72,378.03 216.74,378.89 217.75,379.75 218.76,380.61 219.77,381.47 220.78,382.34 221.80,383.20 222.81,384.06 223.82,384.93 224.83,385.79 225.84,386.66 226.86,387.52 227.87,388.39 228.88,389.25 229.89,390.12 230.90,390.99 231.92,391.85 232.93,392.72 233.94,393.59 234.95,394.45 235.96,395.32 236.98,396.19 237.99,397.06 239.00,397.93 240.01,398.79 241.02,399.66 242.04,400.53 243.05,401.40 244.06,402.27 245.07,403.14 246.08,404.01 247.10,404.88 248.11,405.74 249.12,406.61 250.13,407.48 251.14,408.35 252.16,409.22 253.17,410.09 254.18,410.96 255.19,411.83 256.20,412.70 257.22,413.57 258.23,414.44 259.24,415.31 260.25,416.18 261.26,417.05 262.28,417.92 263.29,418.79 264.30,419.66 265.31,420.53 266.32,421.40 267.34,422.28 268.35,423.15 269.36,424.02 270.37,424.89 271.38,425.76 272.40,426.63 273.41,427.50 274.42,428.37 275.43,429.24 276.44,430.11 277.46,430.98 278.47,431.85 279.48,432.72 280.49,433.60 281.50,434.47 282.52,435.34 283.53,436.21 284.54,437.08 285.55,437.95 286.56,438.82 287.58,439.69 288.59,440.56 289.60,441.44 290.61,442.31 291.62,443.18 292.64,444.05 293.65,444.92 294.66,445.79 295.67,446.66 296.68,447.53 297.70,448.41 298.71,449.28 299.72,450.15 300.73,451.02 301.74,451.89 302.76,452.76 303.77,453.63 304.78,454.50 305.79,455.38 306.80,456.25 307.82,457.12 308.83,457.99 309.84,458.86 310.85,459.73 311.86,460.60 312.88,461.47 313.89,462.35 314.90,463.22 315.91,464.09 316.92,464.96 317.94,465.83 318.95,466.70 319.96,467.57 320.97,468.45 321.98,469.32 323.00,470.19 324.01,471.06 325.02,471.93 326.03,472.80 327.04,473.67 328.06,474.54 329.07,475.42 330.08,476.29 331.09,477.16 332.10,478.03 333.12,478.90 334.13,479.77 335.14,480.64 336.15,481.52 337.16,482.39 338.18,483.26 339.19,484.13 340.20,485.00 341.21,485.87 342.22,486.74 343.24,487.62 344.25,488.49 345.26,489.36 346.27,490.23 347.28,491.10 348.30,491.97 349.31,492.84 350.32,493.72 351.33,494.59 352.34,495.46 353.36,496.33 354.37,497.20 355.38,498.07 356.39,498.94 357.40,499.81 358.42,500.69 359.43,501.56 360.44,502.43 361.45,503.30 362.46,504.17 363.48,505.04 364.49,505.91 365.50,506.79 366.51,507.66 367.52,508.53 368.54,509.40" fill="none" stroke="#d80c0c" stroke-width="1.15" stroke-linejoin="round" stroke-linecap="butt" />
</g>
<line x1="58.40" y1="298.00" x2="366.20" y2="298.00" stroke="#000" stroke-width="1.4" />
<line x1="61.90" y1="298.00" x2="61.90" y2="533.00" stroke="#000" stroke-width="1.4" />
<line x1="365.50" y1="298.00" x2="365.50" y2="533.00" stroke="#000" stroke-width="1.4" />
<line x1="61.20" y1="527.00" x2="365.50" y2="527.00" stroke="#000" stroke-width="1.4" />
<line x1="163.10" y1="527.00" x2="163.10" y2="533.00" stroke="#000" stroke-width="1.4" />
<line x1="264.30" y1="527.00" x2="264.30" y2="533.00" stroke="#000" stroke-width="1.4" />
<line x1="112.50" y1="527.00" x2="112.50" y2="530.30" stroke="#000" stroke-width="1.4" />
<line x1="213.70" y1="527.00" x2="213.70" y2="530.30" stroke="#000" stroke-width="1.4" />
<line x1="314.90" y1="527.00" x2="314.90" y2="530.30" stroke="#000" stroke-width="1.4" />
<line x1="55.20" y1="328.80" x2="61.90" y2="328.80" stroke="#000" stroke-width="1.4" />
<line x1="55.20" y1="368.93" x2="61.90" y2="368.93" stroke="#000" stroke-width="1.4" />
<line x1="55.20" y1="409.06" x2="61.90" y2="409.06" stroke="#000" stroke-width="1.4" />
<line x1="55.20" y1="449.19" x2="61.90" y2="449.19" stroke="#000" stroke-width="1.4" />
<line x1="55.20" y1="489.32" x2="61.90" y2="489.32" stroke="#000" stroke-width="1.4" />
<line x1="58.40" y1="316.72" x2="61.90" y2="316.72" stroke="#000" stroke-width="1.2" />
<line x1="58.40" y1="309.65" x2="61.90" y2="309.65" stroke="#000" stroke-width="1.2" />
<line x1="58.40" y1="304.64" x2="61.90" y2="304.64" stroke="#000" stroke-width="1.2" />
<line x1="58.40" y1="300.75" x2="61.90" y2="300.75" stroke="#000" stroke-width="1.2" />
<line x1="58.40" y1="356.85" x2="61.90" y2="356.85" stroke="#000" stroke-width="1.2" />
<line x1="58.40" y1="349.78" x2="61.90" y2="349.78" stroke="#000" stroke-width="1.2" />
<line x1="58.40" y1="344.77" x2="61.90" y2="344.77" stroke="#000" stroke-width="1.2" />
<line x1="58.40" y1="340.88" x2="61.90" y2="340.88" stroke="#000" stroke-width="1.2" />
<line x1="58.40" y1="337.70" x2="61.90" y2="337.70" stroke="#000" stroke-width="1.2" />
<line x1="58.40" y1="335.02" x2="61.90" y2="335.02" stroke="#000" stroke-width="1.2" />
<line x1="58.40" y1="332.69" x2="61.90" y2="332.69" stroke="#000" stroke-width="1.2" />
<line x1="58.40" y1="330.64" x2="61.90" y2="330.64" stroke="#000" stroke-width="1.2" />
<line x1="58.40" y1="396.98" x2="61.90" y2="396.98" stroke="#000" stroke-width="1.2" />
<line x1="58.40" y1="389.91" x2="61.90" y2="389.91" stroke="#000" stroke-width="1.2" />
<line x1="58.40" y1="384.90" x2="61.90" y2="384.90" stroke="#000" stroke-width="1.2" />
<line x1="58.40" y1="381.01" x2="61.90" y2="381.01" stroke="#000" stroke-width="1.2" />
<line x1="58.40" y1="377.83" x2="61.90" y2="377.83" stroke="#000" stroke-width="1.2" />
<line x1="58.40" y1="375.15" x2="61.90" y2="375.15" stroke="#000" stroke-width="1.2" />
<line x1="58.40" y1="372.82" x2="61.90" y2="372.82" stroke="#000" stroke-width="1.2" />
<line x1="58.40" y1="370.77" x2="61.90" y2="370.77" stroke="#000" stroke-width="1.2" />
<line x1="58.40" y1="437.11" x2="61.90" y2="437.11" stroke="#000" stroke-width="1.2" />
<line x1="58.40" y1="430.04" x2="61.90" y2="430.04" stroke="#000" stroke-width="1.2" />
<line x1="58.40" y1="425.03" x2="61.90" y2="425.03" stroke="#000" stroke-width="1.2" />
<line x1="58.40" y1="421.14" x2="61.90" y2="421.14" stroke="#000" stroke-width="1.2" />
<line x1="58.40" y1="417.96" x2="61.90" y2="417.96" stroke="#000" stroke-width="1.2" />
<line x1="58.40" y1="415.28" x2="61.90" y2="415.28" stroke="#000" stroke-width="1.2" />
<line x1="58.40" y1="412.95" x2="61.90" y2="412.95" stroke="#000" stroke-width="1.2" />
<line x1="58.40" y1="410.90" x2="61.90" y2="410.90" stroke="#000" stroke-width="1.2" />
<line x1="58.40" y1="477.24" x2="61.90" y2="477.24" stroke="#000" stroke-width="1.2" />
<line x1="58.40" y1="470.17" x2="61.90" y2="470.17" stroke="#000" stroke-width="1.2" />
<line x1="58.40" y1="465.16" x2="61.90" y2="465.16" stroke="#000" stroke-width="1.2" />
<line x1="58.40" y1="461.27" x2="61.90" y2="461.27" stroke="#000" stroke-width="1.2" />
<line x1="58.40" y1="458.09" x2="61.90" y2="458.09" stroke="#000" stroke-width="1.2" />
<line x1="58.40" y1="455.41" x2="61.90" y2="455.41" stroke="#000" stroke-width="1.2" />
<line x1="58.40" y1="453.08" x2="61.90" y2="453.08" stroke="#000" stroke-width="1.2" />
<line x1="58.40" y1="451.03" x2="61.90" y2="451.03" stroke="#000" stroke-width="1.2" />
<line x1="58.40" y1="517.37" x2="61.90" y2="517.37" stroke="#000" stroke-width="1.2" />
<line x1="58.40" y1="510.30" x2="61.90" y2="510.30" stroke="#000" stroke-width="1.2" />
<line x1="58.40" y1="505.29" x2="61.90" y2="505.29" stroke="#000" stroke-width="1.2" />
<line x1="58.40" y1="501.40" x2="61.90" y2="501.40" stroke="#000" stroke-width="1.2" />
<line x1="58.40" y1="498.22" x2="61.90" y2="498.22" stroke="#000" stroke-width="1.2" />
<line x1="58.40" y1="495.54" x2="61.90" y2="495.54" stroke="#000" stroke-width="1.2" />
<line x1="58.40" y1="493.21" x2="61.90" y2="493.21" stroke="#000" stroke-width="1.2" />
<line x1="58.40" y1="491.16" x2="61.90" y2="491.16" stroke="#000" stroke-width="1.2" />
<g transform="translate(50.50,333.10) scale(0.905,1)"><text text-anchor="end" fill="#000" style='font-family:"Liberation Serif", serif;font-size:15px;' >0.1</text></g>
<g transform="translate(50.50,373.23) scale(0.905,1)"><text text-anchor="end" fill="#000" style='font-family:"Liberation Serif", serif;font-size:15px;' >0.01</text></g>
<g transform="translate(50.50,413.36) scale(0.905,1)"><text text-anchor="end" fill="#000" style='font-family:"Liberation Serif", serif;font-size:15px;' >0.001</text></g>
<g transform="translate(50.50,453.49) scale(0.905,1)"><text text-anchor="end" fill="#000" style='font-family:"Liberation Serif", serif;font-size:15px;' >1E-4</text></g>
<g transform="translate(50.50,493.62) scale(0.905,1)"><text text-anchor="end" fill="#000" style='font-family:"Liberation Serif", serif;font-size:15px;' >1E-5</text></g>
<g transform="translate(61.90,548.40) scale(0.905,1)"><text text-anchor="middle" fill="#000" style='font-family:"Liberation Serif", serif;font-size:15px;' >0</text></g>
<g transform="translate(163.10,548.40) scale(0.905,1)"><text text-anchor="middle" fill="#000" style='font-family:"Liberation Serif", serif;font-size:15px;' >5</text></g>
<g transform="translate(264.30,548.40) scale(0.905,1)"><text text-anchor="middle" fill="#000" style='font-family:"Liberation Serif", serif;font-size:15px;' >10</text></g>
<g transform="translate(365.50,548.40) scale(0.905,1)"><text text-anchor="middle" fill="#000" style='font-family:"Liberation Serif", serif;font-size:15px;' >15</text></g>
<g transform="translate(211.40,561.30) scale(1.06,1)"><text text-anchor="start" fill="#000" style='font-family:"Liberation Serif", serif;font-size:27.2px;' >t</text></g>
<g transform="translate(-17.40,396.60) scale(1.14,1)"><text text-anchor="start" fill="#000" style='font-family:"WenQuanYi Zen Hei", "DejaVu Sans", sans-serif;font-size:27.5px;' stroke="#000" stroke-width="0.25">〈</text></g>
<g transform="translate(10.50,394.80) scale(0.96,1)"><text text-anchor="start" fill="#000" style='font-family:"Liberation Sans", sans-serif;font-size:26.5px;' stroke="#000" stroke-width="0.3">ρ</text></g>
<g transform="translate(22.10,396.60) scale(1.14,1)"><text text-anchor="start" fill="#000" style='font-family:"WenQuanYi Zen Hei", "DejaVu Sans", sans-serif;font-size:27.5px;' stroke="#000" stroke-width="0.25">〉</text></g>
<rect x="67.3" y="475.3" width="209.5" height="46.0" fill="#fff" stroke="#3a3a3a" stroke-width="0.95"/>
<g transform="translate(69.00,490.20) scale(0.87,1)"><text text-anchor="start" fill="#000" style='font-family:"Liberation Serif", serif;font-size:17.5px;' ><tspan font-style="italic">x</tspan><tspan font-style="italic" font-size="12px" dy="3.5">0</tspan><tspan dy="-3.5"> = 0.75</tspan></text></g>
<g transform="translate(166.50,490.20) scale(0.87,1)"><text text-anchor="start" fill="#000" style='font-family:"Liberation Serif", serif;font-size:17.5px;' ><tspan font-style="italic">q</tspan> = 2,</text></g>
<g transform="translate(244.40,490.20) scale(0.87,1)"><text text-anchor="start" fill="#000" style='font-family:"Liberation Serif", serif;font-size:17.5px;' ><tspan font-style="italic">q</tspan> = 3</text></g>
<g transform="translate(69.00,513.00) scale(0.87,1)"><text text-anchor="start" fill="#000" style='font-family:"Liberation Serif", serif;font-size:17.5px;' ><tspan font-style="italic">x</tspan><tspan font-style="italic" font-size="12px" dy="3.5">0</tspan><tspan dy="-3.5"> = 0.60</tspan></text></g>
<g transform="translate(166.50,513.00) scale(0.87,1)"><text text-anchor="start" fill="#000" style='font-family:"Liberation Serif", serif;font-size:17.5px;' ><tspan font-style="italic">q</tspan> = 2,</text></g>
<g transform="translate(244.40,513.00) scale(0.87,1)"><text text-anchor="start" fill="#000" style='font-family:"Liberation Serif", serif;font-size:17.5px;' ><tspan font-style="italic">q</tspan> = 3</text></g>
<circle cx="145.1" cy="485.3" r="3.9" fill="none" stroke="#008000" stroke-width="1.5"/>
<polygon points="141.1,510.15 149.1,510.15 145.1,503.29999999999995" fill="none" stroke="#ff0000" stroke-width="1.3"/>
<polygon points="218.55,483.4 226.25,483.4 222.4,489.79999999999995" fill="none" stroke="#4466ff" stroke-width="1.3"/>
<rect x="219.15" y="504.75000000000006" width="6.3" height="6.1" fill="none" stroke="#a80000" stroke-width="1.45"/>
</svg>
</body></html>
